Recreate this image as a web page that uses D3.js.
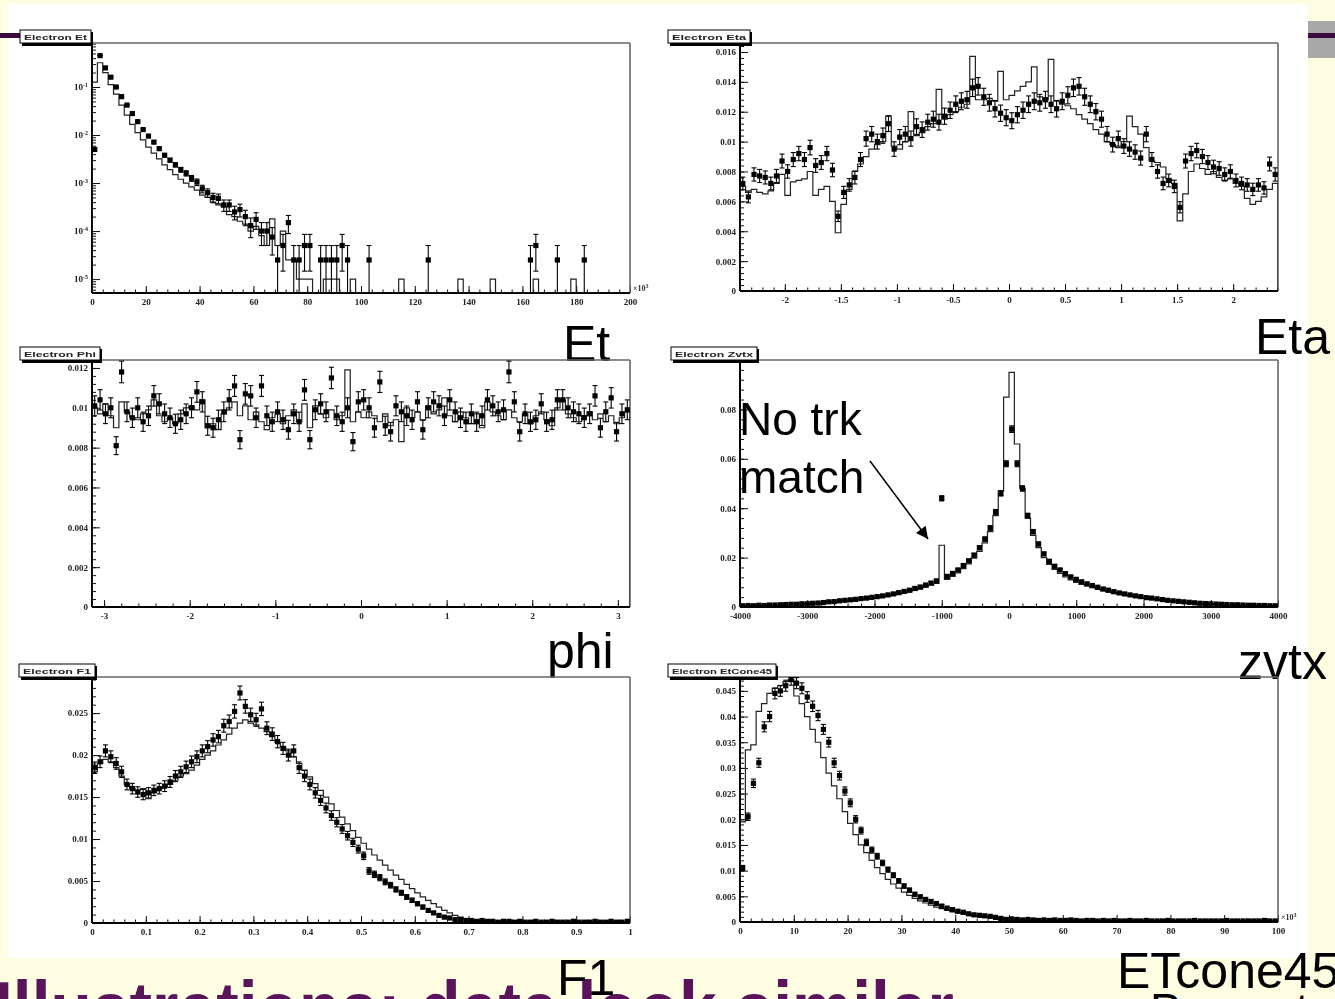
<!DOCTYPE html>
<html>
<head>
<meta charset="utf-8">
<script src="https://cdn.jsdelivr.net/npm/d3@7"></script>
<style>
  html, body { margin: 0; padding: 0; background: #fffde1; overflow: hidden; }
  svg { display: block; }
  .tick text { font-family: "Liberation Serif", serif; font-weight: bold; font-size: 9px; fill: #222; }
  .big { font-family: "Liberation Sans", Arial, sans-serif; fill: #000; }
</style>
</head>
<body>
<svg id="slide"></svg>
<script>
// ---- Electron Et (x10^3), 100 bins 0..200, log y ----
const etData = [0.005, 0.45, 0.25, 0.16, 0.1, 0.063, 0.042, 0.028, 0.019, 0.013,
  0.0095, 0.0071, 0.0052, 0.0038, 0.003, 0.0024, 0.0019, 0.0016, 0.00126, 0.00105,
  7.6e-4, 6.3e-4, 5e-4, 4.8e-4, 3.5e-4, 3.5e-4, 2.5e-4, 2.8e-4, 2e-4, 1.3e-4,
  1.75e-4, 1e-4, 1e-4, 7.5e-5, 2.5e-5, 5e-5, 1.5e-4, 2.5e-5, 2.5e-5, 5e-5,
  5e-5, 0, 2.5e-5, 2.5e-5, 2.5e-5, 2.5e-5, 5e-5, 2.5e-5, 0, 0,
  0, 2.5e-5, 0, 0, 0, 0, 0, 0, 0, 0,
  0, 0, 2.5e-5, 0, 0, 0, 0, 0, 0, 0,
  0, 0, 0, 0, 0, 0, 0, 0, 0, 0,
  0, 2.5e-5, 5e-5, 0, 0, 0, 2.5e-5, 0, 0, 0,
  0, 2.5e-5, 0, 0, 0, 0, 0, 0, 0, 0];
const etMC = [0.126, 0.32, 0.2, 0.112, 0.071, 0.042, 0.026, 0.0166, 0.0112, 0.0079,
  0.0056, 0.0042, 0.0032, 0.0024, 0.0019, 0.0015, 0.0012, 0.001, 8.3e-4, 7.1e-4,
  5.6e-4, 5e-4, 4e-4, 3.5e-4, 3.2e-4, 2.2e-4, 2e-4, 1.6e-4, 1.4e-4, 1e-4,
  1.25e-4, 8e-5, 5e-5, 1.8e-4, 5e-5, 1e-4, 2.5e-5, 2.5e-5, 1e-5, 1e-5,
  1e-5, 0, 0, 1e-5, 1e-5, 1e-5, 0, 0, 1e-5, 0,
  0, 0, 0, 0, 0, 0, 0, 1e-5, 0, 0,
  0, 0, 0, 0, 0, 0, 0, 0, 1e-5, 0,
  0, 0, 0, 0, 1e-5, 0, 0, 0, 0, 0,
  0, 0, 1e-5, 0, 0, 0, 0, 0, 0, 1e-5,
  0, 0, 0, 0, 0, 0, 0, 0, 0, 0];
const etXTicks = [0, 20, 40, 60, 80, 100, 120, 140, 160, 180, 200];
const etYTicks = [1e-5, 1e-4, 1e-3, 1e-2, 1e-1];

// ---- Electron Eta, 96 bins -2.4..2.4 ----
const etaData = [0.0072, 0.0063, 0.0078, 0.0077, 0.0076, 0.0072, 0.0077, 0.0087, 0.0080, 0.0088,
  0.0092, 0.0088, 0.0096, 0.0084, 0.0086, 0.0092, 0.0081, 0.0050, 0.0066, 0.0071,
  0.0076, 0.0088, 0.0102, 0.0105, 0.0100, 0.0104, 0.0112, 0.0095, 0.0103, 0.0105,
  0.0102, 0.0110, 0.0108, 0.0113, 0.0115, 0.0113, 0.0117, 0.0121, 0.0125, 0.0127,
  0.0128, 0.0136, 0.0137, 0.0130, 0.0126, 0.0122, 0.0119, 0.0116, 0.0114, 0.0118,
  0.0121, 0.0125, 0.0127, 0.0126, 0.0128, 0.0125, 0.0122, 0.0127, 0.0131, 0.0136,
  0.0137, 0.0130, 0.0125, 0.0120, 0.0115, 0.0105, 0.0098, 0.0102, 0.0097, 0.0095,
  0.0093, 0.0089, 0.0105, 0.0088, 0.0080, 0.0072, 0.0074, 0.0070, 0.0056, 0.0087,
  0.0092, 0.0094, 0.0090, 0.0086, 0.0083, 0.0082, 0.0078, 0.0080, 0.0074, 0.0072,
  0.0071, 0.0068, 0.0071, 0.0069, 0.0085, 0.0078];
const etaMC = [0.0070, 0.0066, 0.0068, 0.0066, 0.0065, 0.0067, 0.0072, 0.0078, 0.0064, 0.0073,
  0.0074, 0.0075, 0.0080, 0.0064, 0.0068, 0.0070, 0.0060, 0.0039, 0.0058, 0.0068,
  0.0080, 0.0085, 0.0090, 0.0095, 0.0098, 0.0100, 0.0117, 0.0097, 0.0095, 0.0100,
  0.0120, 0.0104, 0.0106, 0.0110, 0.0112, 0.0135, 0.0115, 0.0118, 0.0120, 0.0123,
  0.0125, 0.0157, 0.0128, 0.0128, 0.0129, 0.0127, 0.0147, 0.0128, 0.0131, 0.0134,
  0.0137, 0.0140, 0.0150, 0.0130, 0.0128, 0.0155, 0.0127, 0.0125, 0.0124, 0.0122,
  0.0118, 0.0115, 0.0112, 0.0108, 0.0105, 0.0100, 0.0098, 0.0096, 0.0100, 0.0117,
  0.0110, 0.0105, 0.0096, 0.0087, 0.0086, 0.0083, 0.0075, 0.0072, 0.0047, 0.0065,
  0.0080, 0.0085, 0.0082, 0.0078, 0.0080, 0.0076, 0.0074, 0.0075, 0.0072, 0.0070,
  0.0062, 0.0058, 0.0060, 0.0063, 0.0068, 0.0072];
const etaXTicks = [-2, -1.5, -1, -0.5, 0, 0.5, 1, 1.5, 2];
const etaYTicks = [0, 0.002, 0.004, 0.006, 0.008, 0.01, 0.012, 0.014, 0.016];

// ---- Electron Phi, 100 bins -pi..pi ----
const phiData = [0.0101, 0.0104, 0.0097, 0.0100, 0.0081, 0.0118, 0.0098, 0.0095, 0.0100, 0.0093,
  0.0096, 0.0106, 0.0102, 0.0097, 0.0095, 0.0092, 0.0094, 0.0097, 0.0100, 0.0108,
  0.0103, 0.0091, 0.0090, 0.0094, 0.0098, 0.0104, 0.0111, 0.0084, 0.0107, 0.0106,
  0.0095, 0.0111, 0.0096, 0.0093, 0.0098, 0.0094, 0.0089, 0.0097, 0.0093, 0.0109,
  0.0084, 0.0099, 0.0102, 0.0098, 0.0115, 0.0096, 0.0093, 0.0100, 0.0083, 0.0103,
  0.0104, 0.0100, 0.0090, 0.0113, 0.0091, 0.0088, 0.0101, 0.0098, 0.0096, 0.0094,
  0.0103, 0.0089, 0.0100, 0.0103, 0.0101, 0.0096, 0.0104, 0.0098, 0.0095, 0.0093,
  0.0097, 0.0093, 0.0096, 0.0104, 0.0101, 0.0098, 0.0099, 0.0118, 0.0103, 0.0088,
  0.0097, 0.0093, 0.0094, 0.0102, 0.0093, 0.0094, 0.0104, 0.0104, 0.0100, 0.0098,
  0.0097, 0.0095, 0.0097, 0.0106, 0.0090, 0.0098, 0.0105, 0.0088, 0.0097, 0.0099];
const phiMC = [0.0100, 0.0097, 0.0102, 0.0096, 0.0090, 0.0103, 0.0098, 0.0095, 0.0094, 0.0097,
  0.0099, 0.0104, 0.0096, 0.0093, 0.0095, 0.0092, 0.0097, 0.0100, 0.0101, 0.0099,
  0.0104, 0.0090, 0.0092, 0.0089, 0.0097, 0.0100, 0.0103, 0.0096, 0.0101, 0.0094,
  0.0098, 0.0093, 0.0089, 0.0095, 0.0097, 0.0092, 0.0096, 0.0099, 0.0093, 0.0102,
  0.0090, 0.0101, 0.0097, 0.0095, 0.0099, 0.0094, 0.0096, 0.0119, 0.0093, 0.0098,
  0.0095, 0.0098, 0.0096, 0.0093, 0.0097, 0.0091, 0.0094, 0.0083, 0.0100, 0.0095,
  0.0098, 0.0094, 0.0101, 0.0097, 0.0099, 0.0105, 0.0096, 0.0093, 0.0098, 0.0095,
  0.0092, 0.0097, 0.0090, 0.0103, 0.0098, 0.0096, 0.0094, 0.0099, 0.0095, 0.0093,
  0.0097, 0.0092, 0.0096, 0.0098, 0.0094, 0.0091, 0.0100, 0.0104, 0.0097, 0.0095,
  0.0093, 0.0096, 0.0098, 0.0094, 0.0097, 0.0093, 0.0096, 0.0092, 0.0095, 0.0098];
const phiXTicks = [-3, -2, -1, 0, 1, 2, 3];
const phiYTicks = [0, 0.002, 0.004, 0.006, 0.008, 0.01, 0.012];

// ---- Electron Zvtx, 100 bins -4000..4000 ----
const zvtxData = [0.0005, 0.0006, 0.0005, 0.0007, 0.0006, 0.0008, 0.0008, 0.0009, 0.0010, 0.0011,
  0.0011, 0.0013, 0.0013, 0.0015, 0.0016, 0.0018, 0.0021, 0.0022, 0.0025, 0.0027,
  0.0029, 0.0031, 0.0034, 0.0036, 0.0039, 0.0042, 0.0045, 0.0049, 0.0053, 0.0058,
  0.0063, 0.0068, 0.0075, 0.0081, 0.0089, 0.0097, 0.0106, 0.0440, 0.0124, 0.0136,
  0.0150, 0.0168, 0.0187, 0.0210, 0.0240, 0.0275, 0.0320, 0.0385, 0.0460, 0.0580,
  0.0720, 0.0580, 0.0480, 0.0370, 0.0305, 0.0255, 0.0215, 0.0185, 0.0165, 0.0150,
  0.0135, 0.0122, 0.0112, 0.0102, 0.0094, 0.0087, 0.0080, 0.0073, 0.0068, 0.0062,
  0.0057, 0.0053, 0.0049, 0.0045, 0.0042, 0.0038, 0.0036, 0.0033, 0.0030, 0.0027,
  0.0025, 0.0023, 0.0021, 0.0019, 0.0017, 0.0015, 0.0014, 0.0013, 0.0012, 0.0011,
  0.0010, 0.0009, 0.0009, 0.0008, 0.0007, 0.0007, 0.0006, 0.0006, 0.0005, 0.0005];
const zvtxMC = [0.0004, 0.0005, 0.0005, 0.0006, 0.0006, 0.0007, 0.0007, 0.0008, 0.0009, 0.0010,
  0.0010, 0.0011, 0.0012, 0.0013, 0.0014, 0.0016, 0.0018, 0.0020, 0.0022, 0.0024,
  0.0026, 0.0028, 0.0031, 0.0033, 0.0035, 0.0038, 0.0041, 0.0044, 0.0048, 0.0052,
  0.0056, 0.0061, 0.0067, 0.0073, 0.0080, 0.0088, 0.0096, 0.0250, 0.0112, 0.0124,
  0.0138, 0.0155, 0.0175, 0.0198, 0.0225, 0.0260, 0.0305, 0.0370, 0.0470, 0.0850,
  0.0950, 0.0660, 0.0480, 0.0360, 0.0290, 0.0240, 0.0200, 0.0172, 0.0152, 0.0136,
  0.0122, 0.0110, 0.0100, 0.0092, 0.0085, 0.0078, 0.0072, 0.0066, 0.0061, 0.0056,
  0.0052, 0.0048, 0.0044, 0.0041, 0.0038, 0.0035, 0.0032, 0.0030, 0.0027, 0.0025,
  0.0023, 0.0021, 0.0019, 0.0017, 0.0016, 0.0014, 0.0013, 0.0012, 0.0011, 0.0010,
  0.0009, 0.0009, 0.0008, 0.0007, 0.0007, 0.0006, 0.0006, 0.0005, 0.0005, 0.0004];
const zvtxXTicks = [-4000, -3000, -2000, -1000, 0, 1000, 2000, 3000, 4000];
const zvtxYTicks = [0, 0.02, 0.04, 0.06, 0.08];

// ---- Electron F1, 100 bins 0..1 ----
const f1Data = [0.0185, 0.0192, 0.0205, 0.0198, 0.0190, 0.0180, 0.0165, 0.0160, 0.0156, 0.0153,
  0.0155, 0.0158, 0.0160, 0.0163, 0.0168, 0.0175, 0.0180, 0.0186, 0.0192, 0.0198,
  0.0205, 0.0210, 0.0218, 0.0222, 0.0235, 0.0240, 0.0252, 0.0274, 0.0258, 0.0248,
  0.0242, 0.0255, 0.0232, 0.0225, 0.0216, 0.0208, 0.0200, 0.0205, 0.0185, 0.0175,
  0.0165, 0.0155, 0.0146, 0.0137, 0.0128, 0.0120, 0.0112, 0.0104, 0.0096, 0.0088,
  0.0080, 0.0062, 0.0058, 0.0054, 0.0049, 0.0045, 0.0040, 0.0036, 0.0031, 0.0027,
  0.0023, 0.0019, 0.0015, 0.0012, 0.0009, 0.0007, 0.0006, 0.0004, 0.0004, 0.0003,
  0.0003, 0.0002, 0.0003, 0.0002, 0.0002, 0.0001, 0.0002, 0.0002, 0.0001, 0.0002,
  0.0001, 0.0001, 0.0002, 0.0001, 0.0001, 0.0002, 0.0001, 0.0001, 0.0001, 0.0002,
  0.0001, 0.0001, 0.0001, 0.0002, 0.0001, 0.0001, 0.0002, 0.0001, 0.0001, 0.0002];
const f1MC = [0.0180, 0.0190, 0.0195, 0.0192, 0.0185, 0.0175, 0.0165, 0.0160, 0.0158, 0.0160,
  0.0148, 0.0155, 0.0160, 0.0162, 0.0165, 0.0170, 0.0175, 0.0178, 0.0182, 0.0188,
  0.0195, 0.0200, 0.0205, 0.0212, 0.0218, 0.0225, 0.0232, 0.0238, 0.0242, 0.0238,
  0.0236, 0.0232, 0.0228, 0.0222, 0.0215, 0.0210, 0.0205, 0.0198, 0.0190, 0.0182,
  0.0174, 0.0166, 0.0158, 0.0150, 0.0142, 0.0134, 0.0126, 0.0118, 0.0110, 0.0102,
  0.0095, 0.0088, 0.0081, 0.0075, 0.0069, 0.0063, 0.0057, 0.0052, 0.0046, 0.0041,
  0.0036, 0.0031, 0.0027, 0.0023, 0.0019, 0.0015, 0.0012, 0.0009, 0.0007, 0.0005,
  0.0004, 0.0003, 0.0003, 0.0002, 0.0002, 0.0002, 0.0001, 0.0002, 0.0001, 0.0001,
  0.0001, 0.0002, 0.0001, 0.0001, 0.0001, 0.0001, 0.0001, 0.0001, 0.0001, 0.0001,
  0.0001, 0.0001, 0.0001, 0.0001, 0.0001, 0.0001, 0.0001, 0.0001, 0.0001, 0.0001];
const f1XTicks = [0, 0.1, 0.2, 0.3, 0.4, 0.5, 0.6, 0.7, 0.8, 0.9, 1];
const f1YTicks = [0, 0.005, 0.01, 0.015, 0.02, 0.025];

// ---- Electron EtCone45 (x10^3), 100 bins 0..100 ----
const etconeData = [0.0105, 0.0205, 0.0270, 0.0310, 0.0380, 0.0400, 0.0445, 0.0450, 0.0460, 0.0472,
  0.0465, 0.0455, 0.0438, 0.0420, 0.0402, 0.0375, 0.0350, 0.0310, 0.0285, 0.0255,
  0.0232, 0.0200, 0.0178, 0.0155, 0.0140, 0.0128, 0.0115, 0.0102, 0.0091, 0.0080,
  0.0070, 0.0062, 0.0054, 0.0049, 0.0044, 0.0040, 0.0036, 0.0031, 0.0027, 0.0024,
  0.0021, 0.0019, 0.0016, 0.0014, 0.0013, 0.0012, 0.0011, 0.0009, 0.0007, 0.0005,
  0.0006, 0.0005, 0.0004, 0.0005, 0.0004, 0.0003, 0.0004, 0.0003, 0.0004, 0.0003,
  0.0003, 0.0004, 0.0003, 0.0002, 0.0003, 0.0003, 0.0002, 0.0003, 0.0002, 0.0003,
  0.0002, 0.0002, 0.0003, 0.0002, 0.0002, 0.0003, 0.0002, 0.0002, 0.0002, 0.0003,
  0.0002, 0.0002, 0.0002, 0.0002, 0.0003, 0.0002, 0.0002, 0.0002, 0.0002, 0.0002,
  0.0003, 0.0002, 0.0002, 0.0002, 0.0002, 0.0002, 0.0002, 0.0003, 0.0002, 0.0002];
const etconeMC = [0.0195, 0.0335, 0.0345, 0.0410, 0.0425, 0.0445, 0.0455, 0.0460, 0.0468, 0.0472,
  0.0440, 0.0425, 0.0400, 0.0375, 0.0350, 0.0320, 0.0290, 0.0265, 0.0240, 0.0215,
  0.0192, 0.0170, 0.0150, 0.0135, 0.0120, 0.0106, 0.0094, 0.0083, 0.0074, 0.0066,
  0.0058, 0.0052, 0.0046, 0.0041, 0.0037, 0.0033, 0.0029, 0.0026, 0.0023, 0.0020,
  0.0018, 0.0016, 0.0014, 0.0012, 0.0011, 0.0010, 0.0009, 0.0008, 0.0007, 0.0006,
  0.0005, 0.0004, 0.0004, 0.0003, 0.0004, 0.0003, 0.0003, 0.0003, 0.0003, 0.0002,
  0.0003, 0.0002, 0.0003, 0.0002, 0.0002, 0.0002, 0.0003, 0.0002, 0.0002, 0.0002,
  0.0002, 0.0002, 0.0002, 0.0002, 0.0003, 0.0002, 0.0002, 0.0002, 0.0002, 0.0002,
  0.0002, 0.0002, 0.0002, 0.0002, 0.0002, 0.0002, 0.0002, 0.0002, 0.0002, 0.0002,
  0.0002, 0.0002, 0.0002, 0.0002, 0.0002, 0.0002, 0.0002, 0.0002, 0.0002, 0.0002];
const etconeXTicks = [0, 10, 20, 30, 40, 50, 60, 70, 80, 90, 100];
const etconeYTicks = [0, 0.005, 0.01, 0.015, 0.02, 0.025, 0.03, 0.035, 0.04, 0.045];

const nEvents = 40000;   // normalisation used for the sqrt(N) error bars

const panels = [
  {title: "Electron Et", titleBox: [20, 91], label: "Et", labelAt: [563, 361],
   frame: {l: 92, r: 630, t: 43, b: 293},
   xDomain: [0, 200], xTicks: etXTicks, xMinorStep: 4, xPower: true,
   yLog: true, yDomain: [5.13e-6, 0.825], yTicks: etYTicks,
   data: etData, mc: etMC},
  {title: "Electron Eta", titleBox: [668, 750], label: "Eta", labelAt: [1255, 354],
   frame: {l: 740, r: 1278, t: 43, b: 291},
   xDomain: [-2.4, 2.4], xTicks: etaXTicks, xMinorStep: 0.1,
   yDomain: [0, 0.0166], yTicks: etaYTicks, yMinorStep: 0.0004,
   data: etaData, mc: etaMC},
  {title: "Electron Phi", titleBox: [20, 100], label: "phi", labelAt: [547, 668],
   frame: {l: 92, r: 630, t: 360, b: 607},
   xDomain: [-Math.PI, Math.PI], xTicks: phiXTicks, xMinorStep: 0.2,
   yDomain: [0, 0.0124], yTicks: phiYTicks, yMinorStep: 0.0004,
   data: phiData, mc: phiMC},
  {title: "Electron Zvtx", titleBox: [671, 757], label: "zvtx", labelAt: [1238, 679],
   frame: {l: 740, r: 1278, t: 360, b: 607},
   xDomain: [-4000, 4000], xTicks: zvtxXTicks, xMinorStep: 200,
   yDomain: [0, 0.1], yTicks: zvtxYTicks, yMinorStep: 0.004,
   data: zvtxData, mc: zvtxMC},
  {title: "Electron F1", titleBox: [19, 95], label: "F1", labelAt: [557, 995],
   frame: {l: 92, r: 630, t: 677, b: 923},
   xDomain: [0, 1], xTicks: f1XTicks, xMinorStep: 0.02,
   yDomain: [0, 0.0293], yTicks: f1YTicks, yMinorStep: 0.001,
   data: f1Data, mc: f1MC},
  {title: "Electron EtCone45", titleBox: [668, 776], label: "ETcone45", labelAt: [1117, 988],
   frame: {l: 740, r: 1278, t: 677, b: 922},
   xDomain: [0, 100], xTicks: etconeXTicks, xMinorStep: 2, xPower: true,
   yDomain: [0, 0.0477], yTicks: etconeYTicks, yMinorStep: 0.001,
   data: etconeData, mc: etconeMC}
];

const svg = d3.select("#slide").attr("width", 1335).attr("height", 999);
const defs = svg.append("defs");
defs.append("filter").attr("id", "soft")
  .append("feGaussianBlur").attr("stdDeviation", 0.6);
defs.append("marker")
  .attr("id", "arrow").attr("viewBox", "0 0 10 10")
  .attr("refX", 10).attr("refY", 5)
  .attr("markerUnits", "userSpaceOnUse")
  .attr("markerWidth", 16).attr("markerHeight", 12)
  .attr("orient", "auto")
  .append("path").attr("d", "M0,0 L10,5 L0,10 z").attr("fill", "#000");

// slide background
svg.append("rect").attr("width", 1335).attr("height", 999).attr("fill", "#fffde1");
svg.append("rect").attr("x", 8).attr("y", 4).attr("width", 1300).attr("height", 954).attr("fill", "#fff");
svg.append("rect").attr("x", 1308).attr("y", 21).attr("width", 27).attr("height", 37).attr("fill", "#a8a8a8");
svg.append("rect").attr("x", 1308).attr("y", 33).attr("width", 27).attr("height", 5).attr("fill", "#3b0b3d");
svg.append("rect").attr("x", 0).attr("y", 33).attr("width", 22).attr("height", 5).attr("fill", "#3b0b3d");

// slide footer, cut by the bottom edge (drawn first so labels sit on top)
svg.append("text").attr("x", -6).attr("y", 1036)
  .attr("font-family", "Liberation Sans, Arial, sans-serif").attr("font-weight", "bold")
  .attr("font-size", 78).attr("fill", "#5a145a")
  .attr("textLength", 960).attr("lengthAdjust", "spacingAndGlyphs")
  .text("Illustrations: data look similar");
svg.append("text").attr("class", "big").attr("x", 1150).attr("y", 1026)
  .attr("font-size", 46).text("Presented by K");

const minorTicks = (domain, step) =>
  d3.range(Math.ceil(domain[0] / step - 1e-6) * step, domain[1] + step * 1e-3, step);

const logMinor = (domain) => {
  const out = [];
  for (let e = -7; e <= 1; e++) {
    for (let k = 2; k <= 9; k++) {
      const v = k * Math.pow(10, e);
      if (v >= domain[0] && v <= domain[1]) out.push(v);
    }
  }
  return out;
};

const drawPanel = (p, idx) => {
  const f = p.frame;
  const g = svg.append("g").attr("filter", "url(#soft)");

  const x = d3.scaleLinear().domain(p.xDomain).range([f.l, f.r]);
  const y = (p.yLog ? d3.scaleLog() : d3.scaleLinear()).domain(p.yDomain).range([f.b, f.t]);
  const yv = v => y(Math.min(Math.max(v, p.yDomain[0]), p.yDomain[1] * 1.5));

  const clipId = "clip" + idx;
  defs.append("clipPath").attr("id", clipId)
    .append("rect").attr("x", f.l).attr("y", f.t).attr("width", f.r - f.l).attr("height", f.b - f.t);

  // axes (ROOT style, ticks pointing inwards)
  const xMinor = g.append("g").attr("transform", `translate(0,${f.b})`).attr("color", "#111")
    .call(d3.axisBottom(x).tickValues(minorTicks(p.xDomain, p.xMinorStep)).tickSize(-3.5).tickFormat(""));
  const xMajor = g.append("g").attr("transform", `translate(0,${f.b})`).attr("color", "#111")
    .call(d3.axisBottom(x).tickValues(p.xTicks).tickSize(-7).tickPadding(6).tickFormat(d => d));
  const yMinorVals = p.yLog ? logMinor(p.yDomain) : minorTicks(p.yDomain, p.yMinorStep);
  const yMinor = g.append("g").attr("transform", `translate(${f.l},0)`).attr("color", "#111")
    .call(d3.axisLeft(y).tickValues(yMinorVals).tickSize(-4).tickFormat(""));
  const yMajor = g.append("g").attr("transform", `translate(${f.l},0)`).attr("color", "#111")
    .call(d3.axisLeft(y).tickValues(p.yTicks).tickSize(-8).tickPadding(4)
      .tickFormat(d => p.yLog ? "" : d));
  [xMinor, xMajor, yMinor, yMajor].forEach(a => {
    a.select(".domain").remove();
    a.attr("font-family", null).attr("font-size", null);
  });
  if (p.yLog) {
    yMajor.selectAll(".tick text").each(function (d) {
      const t = d3.select(this);
      t.append("tspan").text("10");
      t.append("tspan").attr("dy", -3.5).attr("font-size", 6)
        .text(Math.round(Math.log10(d)));
    });
  }
  if (p.xPower) {
    const t = g.append("text").attr("x", f.r + 3).attr("y", f.b - 2)
      .attr("font-family", "Liberation Serif, serif").attr("font-weight", "bold")
      .attr("font-size", 8).attr("fill", "#333").text("\u00d710");
    t.append("tspan").attr("dy", -3).attr("font-size", 6).text("3");
  }

  // frame
  g.append("line").attr("x1", f.l).attr("x2", f.r).attr("y1", f.t).attr("y2", f.t)
    .attr("stroke", "#666").attr("stroke-width", 1.6);
  g.append("line").attr("x1", f.r).attr("x2", f.r).attr("y1", f.t).attr("y2", f.b)
    .attr("stroke", "#666").attr("stroke-width", 1.6);
  g.append("line").attr("x1", f.l).attr("x2", f.l).attr("y1", f.t).attr("y2", f.b)
    .attr("stroke", "#000").attr("stroke-width", 2);
  g.append("line").attr("x1", f.l).attr("x2", f.r).attr("y1", f.b).attr("y2", f.b)
    .attr("stroke", "#000").attr("stroke-width", 2);

  const plot = g.append("g").attr("clip-path", `url(#${clipId})`);

  // simulation histogram (step outline)
  const x0 = p.xDomain[0], x1 = p.xDomain[1];
  const wMC = (x1 - x0) / p.mc.length;
  const steps = [[x0, 0]]
    .concat(p.mc.map((v, i) => [x0 + i * wMC, v]))
    .concat([[x1, p.mc[p.mc.length - 1]], [x1, 0]]);
  plot.append("path")
    .attr("d", d3.line().x(d => x(d[0])).y(d => yv(d[1])).curve(d3.curveStepAfter)(steps))
    .attr("fill", "none").attr("stroke", "#222").attr("stroke-width", 1.2);

  // data points with sqrt(N) errors
  const wD = (x1 - x0) / p.data.length;
  const pts = p.data.map((v, i) => ({xc: x0 + (i + 0.5) * wD, v, e: Math.sqrt(v / nEvents)}))
    .filter(d => d.v > 0);
  const eb = plot.append("g").attr("stroke", "#000").attr("stroke-width", 1.1);
  eb.selectAll("line.bar").data(pts).join("line").attr("class", "bar")
    .attr("x1", d => x(d.xc)).attr("x2", d => x(d.xc))
    .attr("y1", d => yv(d.v - d.e)).attr("y2", d => yv(d.v + d.e));
  eb.selectAll("line.capt").data(pts).join("line").attr("class", "capt")
    .attr("x1", d => x(d.xc) - 2.5).attr("x2", d => x(d.xc) + 2.5)
    .attr("y1", d => yv(d.v + d.e)).attr("y2", d => yv(d.v + d.e));
  eb.selectAll("line.capb").data(pts.filter(d => d.v - d.e > 0)).join("line").attr("class", "capb")
    .attr("x1", d => x(d.xc) - 2.5).attr("x2", d => x(d.xc) + 2.5)
    .attr("y1", d => yv(d.v - d.e)).attr("y2", d => yv(d.v - d.e));
  plot.append("g").selectAll("rect").data(pts).join("rect")
    .attr("x", d => x(d.xc) - 2.6).attr("y", d => yv(d.v) - 2.6)
    .attr("width", 5.2).attr("height", 5.2).attr("fill", "#000");

  // title box
  const [b0, b1] = p.titleBox;
  g.append("rect").attr("x", b0 + 2).attr("y", f.t - 11).attr("width", b1 - b0).attr("height", 14)
    .attr("fill", "#000");
  g.append("rect").attr("x", b0).attr("y", f.t - 13).attr("width", b1 - b0).attr("height", 13)
    .attr("fill", "#fff").attr("stroke", "#000").attr("stroke-width", 1);
  g.append("text").attr("x", b0 + 4).attr("y", f.t - 3.5)
    .attr("font-family", "Liberation Sans, Arial, sans-serif").attr("font-weight", "bold")
    .attr("font-size", 8).attr("fill", "#222")
    .attr("textLength", b1 - b0 - 8).attr("lengthAdjust", "spacingAndGlyphs")
    .text(p.title);

  // big slide label
  svg.append("text").attr("class", "big").attr("x", p.labelAt[0]).attr("y", p.labelAt[1])
    .attr("font-size", 50).text(p.label);
};

panels.forEach(drawPanel);

// annotation
svg.append("text").attr("class", "big").attr("x", 739).attr("y", 435).attr("font-size", 46).text("No trk");
svg.append("text").attr("class", "big").attr("x", 739).attr("y", 493).attr("font-size", 46).text("match");
svg.append("line").attr("x1", 870).attr("y1", 461).attr("x2", 928).attr("y2", 539)
  .attr("stroke", "#000").attr("stroke-width", 1.5).attr("marker-end", "url(#arrow)");
</script>
</body>
</html>
